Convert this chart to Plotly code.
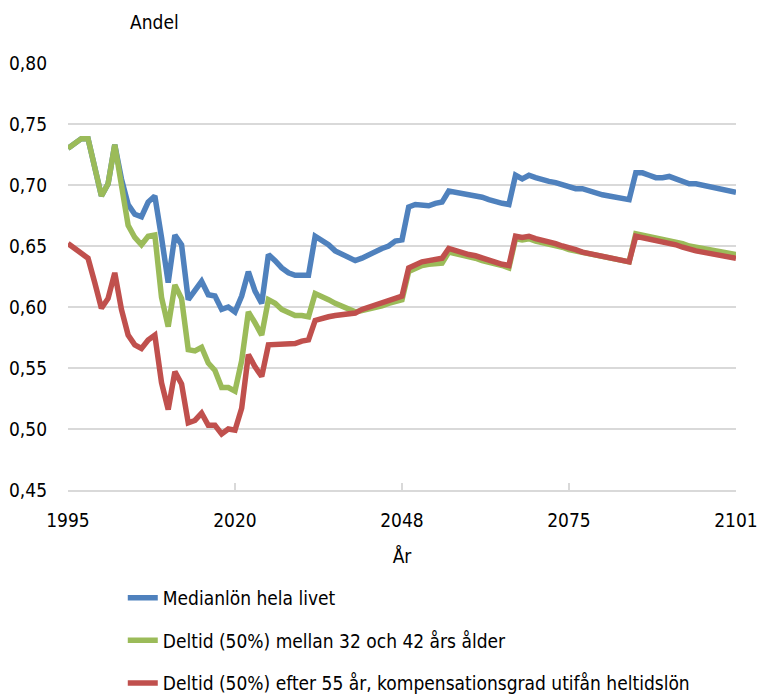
import plotly.graph_objects as go

# Category positions (101 categories, labels every 25th)
idx = list(range(101))
tick_pos = [0, 25, 50, 75, 100]
tick_labels = ["1995", "2020", "2048", "2075", "2101"]

median = [0.730, 0.734, 0.738, 0.738, 0.714, 0.691, 0.701, 0.733, 0.705, 0.684,
          0.676, 0.674, 0.686, 0.691, 0.657, 0.620, 0.659, 0.651, 0.606, 0.613,
          0.621, 0.610, 0.609, 0.598, 0.600, 0.596, 0.609, 0.629, 0.613, 0.603,
          0.643, 0.638, 0.632, 0.628, 0.626, 0.626, 0.626, 0.658, 0.655, 0.651,
          0.646, 0.643, 0.640, 0.638, 0.640, 0.643, 0.646, 0.648, 0.650, 0.654,
          0.655, 0.682, 0.684, 0.684, 0.683, 0.685, 0.686, 0.695, 0.694, 0.694,
          0.692, 0.692, 0.690, 0.688, 0.686, 0.685, 0.684, 0.708, 0.705, 0.708,
          0.706, 0.704, 0.703, 0.702, 0.700, 0.698, 0.697, 0.697, 0.695, 0.694,
          0.692, 0.691, 0.690, 0.690, 0.688, 0.710, 0.710, 0.708, 0.706, 0.706,
          0.707, 0.705, 0.703, 0.701, 0.701, 0.700, 0.699, 0.697, 0.696, 0.695,
          0.694]

deltid_32_42 = [0.730, 0.734, 0.738, 0.738, 0.714, 0.691, 0.701, 0.733, 0.700, 0.667,
                0.657, 0.651, 0.658, 0.659, 0.608, 0.584, 0.618, 0.607, 0.565, 0.564,
                0.567, 0.554, 0.548, 0.534, 0.534, 0.531, 0.556, 0.596, 0.587, 0.577,
                0.606, 0.603, 0.598, 0.595, 0.593, 0.593, 0.592, 0.611, 0.609, 0.606,
                0.603, 0.601, 0.598, 0.596, 0.597, 0.598, 0.600, 0.601, 0.603, 0.604,
                0.606, 0.629, 0.632, 0.634, 0.635, 0.636, 0.636, 0.645, 0.644, 0.643,
                0.641, 0.640, 0.638, 0.637, 0.635, 0.634, 0.632, 0.656, 0.655, 0.656,
                0.654, 0.653, 0.652, 0.650, 0.649, 0.647, 0.646, 0.645, 0.643, 0.642,
                0.641, 0.640, 0.639, 0.638, 0.637, 0.660, 0.659, 0.658, 0.657, 0.656,
                0.655, 0.654, 0.652, 0.650, 0.649, 0.648, 0.647, 0.646, 0.645, 0.644,
                0.643]

deltid_55 = [0.652, 0.648, 0.645, 0.640, 0.620, 0.599, 0.607, 0.628, 0.598, 0.577,
             0.569, 0.566, 0.573, 0.577, 0.538, 0.516, 0.547, 0.537, 0.505, 0.507,
             0.513, 0.503, 0.503, 0.496, 0.500, 0.499, 0.517, 0.561, 0.551, 0.543,
             0.569, 0.569, 0.569, 0.569, 0.570, 0.572, 0.573, 0.589, 0.591, 0.592,
             0.593, 0.594, 0.595, 0.595, 0.598, 0.600, 0.602, 0.604, 0.606, 0.607,
             0.609, 0.632, 0.635, 0.637, 0.638, 0.639, 0.640, 0.648, 0.646, 0.645,
             0.643, 0.642, 0.640, 0.639, 0.637, 0.635, 0.634, 0.658, 0.657, 0.658,
             0.656, 0.655, 0.653, 0.652, 0.650, 0.649, 0.647, 0.645, 0.644, 0.643,
             0.641, 0.640, 0.639, 0.638, 0.637, 0.658, 0.657, 0.656, 0.655, 0.654,
             0.653, 0.651, 0.649, 0.647, 0.646, 0.645, 0.644, 0.643, 0.642, 0.641,
             0.640]

names = ["Medianlön hela livet",
         "Deltid (50%) mellan 32 och 42 års ålder",
         "Deltid (50%) efter 55 år, kompensationsgrad utifån heltidslön"]
colors = ["#4f81bd", "#9bbb59", "#c0504d"]

FONT = "DejaVu Sans Condensed, Liberation Sans Narrow, sans-serif"

fig = go.Figure()
for name, ys, c in zip(names, [median, deltid_32_42, deltid_55], colors):
    fig.add_trace(go.Scatter(x=idx, y=ys, mode="lines", name=name,
                             legendgroup=name,
                             line=dict(color=c, width=5.5)))

fig.update_layout(
    width=757, height=697,
    margin=dict(l=68, r=21, t=63, b=207, autoexpand=False),
    paper_bgcolor="white", plot_bgcolor="white",
    separators=",.",
    font=dict(family=FONT, size=19, color="#000000"),
    showlegend=True,
    legend=dict(x=0.082, y=-0.208, xanchor="left", yanchor="top",
                font=dict(size=19), tracegroupgap=15,
                bgcolor="rgba(0,0,0,0)"),
    xaxis=dict(range=[0, 100], tickvals=tick_pos, ticktext=tick_labels,
               showgrid=False, zeroline=False,
               showline=True, linecolor="#d9d9d9", linewidth=1.5,
               ticks="inside", ticklen=7, tickcolor="#d9d9d9", tickwidth=1.5,
               tickfont=dict(size=19), ticklabelstandoff=12,
               ticklabeloverflow="allow",
               title=dict(text="År", font=dict(size=19), standoff=20)),
    yaxis=dict(range=[0.45, 0.80], dtick=0.05, tickformat=".2f",
               showgrid=True, gridcolor="#d9d9d9", gridwidth=1.5,
               zeroline=False, showline=False, ticks="",
               tickfont=dict(size=19), ticklabelstandoff=20,
               ticklabeloverflow="allow"),
    annotations=[dict(text="Andel", xref="paper", yref="paper",
                      x=(128 - 68) / 668, y=(490 - 22) / 427,
                      xanchor="left", yanchor="middle", showarrow=False,
                      font=dict(size=19))],
)

fig.write_html("out.html",
               config={"displayModeBar": False},
               post_script="document.body.style.margin='0';"
                           "document.body.style.overflow='hidden';")
